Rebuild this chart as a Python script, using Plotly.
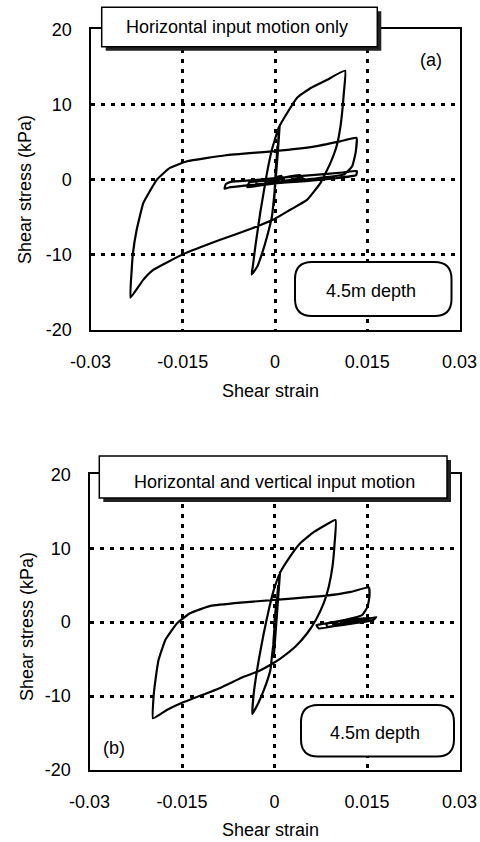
import plotly.graph_objects as go

W, H = 480, 842

# ---------------- data ----------------
strain_a = [0, 0.0002, -0.0001, 0.0004, -0.0002, 0.0006, 0.00075, 0.0004, 0.0, -0.0005, -0.0013, -0.0021, -0.0029, -0.0038,
            -0.0036, -0.0032, -0.0024, -0.0013, -0.0005, 0.0006, 0.0020, 0.0036, 0.0058, 0.0085, 0.0114,
            0.0112, 0.01065, 0.0100, 0.0090, 0.0074, 0.0052, 0.0025, 0.0, -0.0038, -0.0089, -0.0149, -0.0198, -0.0214, -0.0235,
            -0.0233, -0.0231, -0.0225, -0.0214, -0.0192, -0.0171, -0.0143, -0.0080, 0.0, 0.0063, 0.0106, 0.01325,
            0.0131, 0.01255, 0.0112,
            0.0060, 0.0, -0.0050, -0.0075, -0.0082, -0.0080, -0.0072, -0.0040, 0.0, 0.0060, 0.0110, 0.0133,
            0.0132, 0.0100, 0.0050, 0.0, -0.0035, -0.0045, -0.0042, -0.0015, 0.0015, 0.0040, 0.0045, 0.0020,
            -0.0010, -0.0030, -0.0030, -0.0005, 0.0010, 0.0012, -0.0010, -0.0015, 0.0]
stress_a = [0, 2.5, -2.0, 4.5, -3.5, 6.0, 7.1, 3.0, -1.0, -4.9, -7.6, -9.8, -11.6, -12.6,
            -11.5, -8.9, -4.4, 0.9, 4.0, 6.9, 8.9, 10.9, 12.2, 13.3, 14.5,
            11.6, 7.1, 4.4, 2.2, -0.44, -2.7, -4.0, -5.2, -6.5, -8.0, -9.9, -12.0, -13.3, -15.7,
            -12.0, -9.8, -6.7, -3.1, 0.0, 1.56, 2.44, 3.25, 3.8, 4.4, 5.1, 5.56,
            3.56, 1.78, 0.67,
            0.1, -0.4, -0.8, -1.05, -1.2, -0.6, -0.3, -0.1, 0.2, 0.6, 0.95, 1.15,
            0.6, 0.2, -0.2, -0.5, -0.9, -1.0, -0.4, -0.1, 0.3, 0.6, 0.3, -0.1,
            -0.5, -0.8, -0.3, 0.1, 0.5, 0.2, -0.3, -0.1, 0.0]

strain_b = [0, 0.0003, -0.0002, 0.0006, -0.0001, 0.0009, 0.0005, 0.0001, -0.0004, -0.00065, -0.0015, -0.0026, -0.0036,
            -0.00336, -0.00255, -0.00174, -0.00093, -0.0001, 0.00098, 0.0023, 0.0042, 0.0064, 0.0099,
            0.00975, 0.0094, 0.0088, 0.0080, 0.0067, 0.0053, 0.0034, 0.0010, -0.0005, -0.0025, -0.0050, -0.0088, -0.0150, -0.0174, -0.0197,
            -0.0196, -0.0193, -0.0188, -0.0177, -0.0158, -0.0137, -0.0104, -0.0055, 0.0, 0.0080, 0.0124, 0.0153,
            0.0154, 0.0151, 0.01425,
            0.0120, 0.0090, 0.0068, 0.0072, 0.0100, 0.0135, 0.0165, 0.0160, 0.0125, 0.0085, 0.0085, 0.0120,
            0.0155, 0.0150, 0.0115, 0.0095, 0.0100, 0.0130, 0.0145, 0.0140, 0.0110]
stress_b = [0, 3.0, -3.0, 5.0, -4.5, 6.8, 3.0, -1.0, -4.5, -6.4, -8.7, -10.9, -12.4,
            -9.6, -5.1, -1.5, 1.66, 4.4, 6.8, 8.6, 10.7, 12.2, 13.8,
            10.7, 7.5, 4.8, 2.6, 0.3, -1.5, -3.3, -4.9, -5.7, -6.6, -7.4, -8.9, -10.9, -11.85, -13.0,
            -10.0, -7.8, -5.1, -2.4, -0.14, 1.2, 2.2, 2.65, 3.0, 3.55, 4.1, 4.7,
            3.5, 2.1, 1.0,
            0.4, -0.1, -0.4, -0.85, -0.5, 0.1, 0.7, 0.3, -0.2, -0.6, -0.15, 0.3,
            0.6, 0.2, -0.2, -0.3, 0.0, 0.35, 0.45, 0.2, 0.0]

x_ticks = [-0.03, -0.015, 0, 0.015, 0.03]
x_ticklabels = ["-0.03", "-0.015", "0", "0.015", "0.03"]
y_ticks = [-20, -10, 0, 10, 20]
y_ticklabels = ["-20", "-10", "0", "10", "20"]

titles = ["Horizontal input motion only", "Horizontal and vertical input motion"]
depth_label = "4.5m depth"
panel_labels = ["(a)", "(b)"]
x_title = "Shear strain"
y_title = "Shear stress (kPa)"

FONT = "Liberation Sans, Arial, Helvetica, sans-serif"

# ---------------- helpers ----------------
def px(x):
    return x / W

def py(y):
    return 1 - y / H

def rounded_path(x0, y0, x1, y1, r):
    def P(x, y):
        return f"{px(x):.5f},{py(y):.5f}"
    return (f"M {P(x0 + r, y0)} L {P(x1 - r, y0)} Q {P(x1, y0)} {P(x1, y0 + r)} "
            f"L {P(x1, y1 - r)} Q {P(x1, y1)} {P(x1 - r, y1)} "
            f"L {P(x0 + r, y1)} Q {P(x0, y1)} {P(x0, y1 - r)} "
            f"L {P(x0, y0 + r)} Q {P(x0, y0)} {P(x0 + r, y0)} Z")

fig = go.Figure()
line_style = dict(color="black", width=2.2, shape="spline", smoothing=0.35)
fig.add_trace(go.Scatter(x=strain_a, y=stress_a, mode="lines", line=line_style,
                         xaxis="x", yaxis="y", showlegend=False))
fig.add_trace(go.Scatter(x=strain_b, y=stress_b, mode="lines", line=line_style,
                         xaxis="x2", yaxis="y2", showlegend=False))

panels = [
    dict(l=90.5, r=459.5, t=29.3, b=330.0),
    dict(l=89.5, r=459.5, t=474.3, b=770.0),
]

axis_common = dict(showline=True, linecolor="black", linewidth=2.2, mirror=True,
                   showgrid=True, gridcolor="black", gridwidth=2.5, griddash="4px,6px",
                   zeroline=False, ticks="", automargin=False,
                   tickfont=dict(family=FONT, size=18, color="black"))

layout = dict(width=W, height=H, margin=dict(l=0, r=0, t=0, b=0, pad=0, autoexpand=False),
              paper_bgcolor="white", plot_bgcolor="white", showlegend=False)

for i, p in enumerate(panels):
    sx = "" if i == 0 else "2"
    layout["xaxis" + sx] = dict(axis_common, domain=[px(p["l"]), px(p["r"])], range=[-0.03, 0.03],
                                tickmode="array", tickvals=x_ticks, ticktext=x_ticklabels,
                                anchor="y" + sx, ticklabelstandoff=14)
    layout["yaxis" + sx] = dict(axis_common, domain=[py(p["b"]), py(p["t"])], range=[-20, 20],
                                tickmode="array", tickvals=y_ticks, ticktext=y_ticklabels,
                                anchor="x" + sx, ticklabelstandoff=13)

fig.update_layout(**layout)

shapes = []
annotations = []

title_boxes = [
    dict(x0=101.7, y0=7.3, x1=377.3, y1=46.7, tx=237.0, ty=27.0),
    dict(x0=99.3, y0=456.0, x1=447.0, y1=498.0, tx=274.0, ty=482.0),
]
depth_boxes = [
    dict(x0=295.0, y0=262.0, x1=451.5, y1=316.0, tx=371.0, ty=291.0),
    dict(x0=301.0, y0=705.0, x1=454.0, y1=756.5, tx=375.0, ty=733.0),
]
panel_pos = [(431.0, 60.0), (113.5, 748.0)]
xtitle_pos = [(270.0, 391.5), (270.0, 830.0)]
ytitle_pos = [(25.0, 190.0), (27.0, 627.0)]

for i in range(2):
    b = title_boxes[i]
    off = 4
    shapes.append(dict(type="rect", xref="paper", yref="paper", layer="above",
                       x0=px(b["x0"] + off), x1=px(b["x1"] + off), y0=py(b["y1"] + off), y1=py(b["y0"] + off),
                       fillcolor="#222222", line=dict(width=0)))
    shapes.append(dict(type="rect", xref="paper", yref="paper", layer="above",
                       x0=px(b["x0"]), x1=px(b["x1"]), y0=py(b["y1"]), y1=py(b["y0"]),
                       fillcolor="white", line=dict(color="black", width=1.5)))
    annotations.append(dict(text=titles[i], xref="paper", yref="paper", x=px(b["tx"]), y=py(b["ty"]),
                            xanchor="center", yanchor="middle", showarrow=False,
                            font=dict(family=FONT, size=18, color="black")))
    d = depth_boxes[i]
    shapes.append(dict(type="path", xref="paper", yref="paper", layer="above",
                       path=rounded_path(d["x0"], d["y0"], d["x1"], d["y1"], 17),
                       fillcolor="white", line=dict(color="black", width=2)))
    annotations.append(dict(text=depth_label, xref="paper", yref="paper", x=px(d["tx"]), y=py(d["ty"]),
                            xanchor="center", yanchor="middle", showarrow=False,
                            font=dict(family=FONT, size=18, color="black")))
    annotations.append(dict(text=panel_labels[i], xref="paper", yref="paper",
                            x=px(panel_pos[i][0]), y=py(panel_pos[i][1]),
                            xanchor="center", yanchor="middle", showarrow=False,
                            font=dict(family=FONT, size=18, color="black")))
    annotations.append(dict(text=x_title, xref="paper", yref="paper",
                            x=px(xtitle_pos[i][0]), y=py(xtitle_pos[i][1]),
                            xanchor="center", yanchor="middle", showarrow=False,
                            font=dict(family=FONT, size=18, color="black")))
    annotations.append(dict(text=y_title, xref="paper", yref="paper",
                            x=px(ytitle_pos[i][0]), y=py(ytitle_pos[i][1]), textangle=-90,
                            xanchor="center", yanchor="middle", showarrow=False,
                            font=dict(family=FONT, size=18, color="black")))

fig.update_layout(shapes=shapes, annotations=annotations)
fig.write_html("out.html")
